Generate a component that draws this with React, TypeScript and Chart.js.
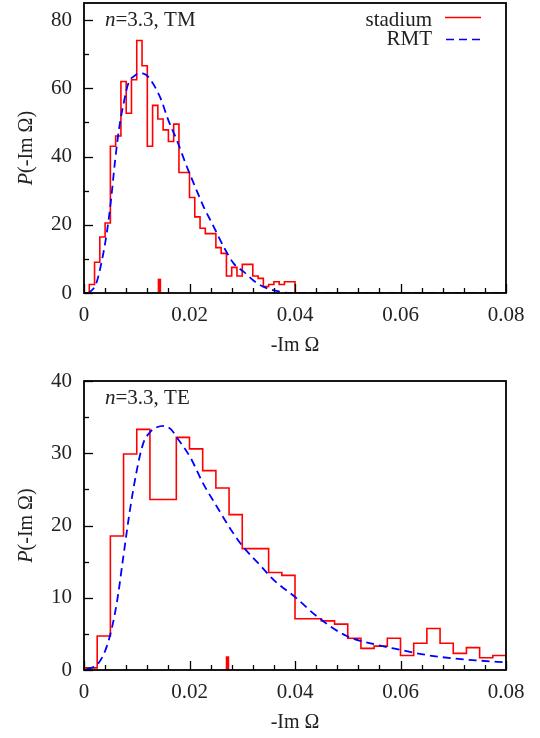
import React, { useEffect, useRef } from 'react';
import { Chart, registerables } from 'chart.js';

Chart.register(...registerables);

// ---------- data ----------
const xTicks = [0, 0.02, 0.04, 0.06, 0.08];
const xTickLabels = ['0', '0.02', '0.04', '0.06', '0.08'];
const tmYTicks = [0, 20, 40, 60, 80];
const teYTicks = [0, 10, 20, 30, 40];

// TM histogram: bins of width 0.001 starting at 0
const tmBinWidth = 0.001;
const tmCounts = [
  0, 2.5, 9, 16.4, 20.5, 43, 46, 62, 52.7, 62.5,
  74, 66.6, 43, 55, 51, 47.8, 44.4, 49.5, 35.3, 35.3,
  28, 22.3, 19, 17.4, 17.4, 13.3, 11.6, 5, 7.5, 5,
  8.4, 8.4, 5, 4.3, 1.9, 2.5, 3.3, 2.5, 3.3, 3.3,
];
const tmRmtX = [
  0.0008, 0.0015, 0.0023, 0.0034, 0.0043, 0.0051, 0.0059, 0.0067, 0.0075, 0.0084,
  0.0097, 0.0106, 0.0113, 0.0121, 0.0144, 0.016, 0.0176, 0.0195, 0.0211, 0.0227,
  0.0246, 0.0265, 0.0284, 0.0303, 0.0325, 0.0345, 0.0365, 0.039, 0.08,
];
const tmRmtY = [
  0, 0.8, 2.7, 9.6, 17.4, 27, 38.9, 48.7, 55.5, 61.4,
  63.8, 64.4, 64.3, 63.5, 57.5, 50.6, 44.8, 37, 31, 25.2,
  19.4, 13.5, 8.6, 6.2, 3.2, 1.5, 0.6, 0, 0,
];
const tmMarkerX = 0.0143;
const tmMarkerH = 4.2;

// TE histogram: bins of width 0.0025 starting at 0
const teBinWidth = 0.0025;
const teCounts = [
  0.3, 4.7, 18.55, 29.9, 33.3, 23.6, 23.6, 32.2, 30.6, 27.6,
  25.2, 21.5, 16.8, 16.8, 13.5, 13.1, 7.1, 7.1, 6.8, 6.35,
  4.4, 3.0, 3.3, 4.4, 2.0, 3.7, 5.75, 3.7, 2.3, 3.1,
  1.7, 2.0,
];
const teRmtX = [
  0.0005, 0.0027, 0.0046, 0.0062, 0.00745, 0.0087, 0.01, 0.0112, 0.0125, 0.0138,
  0.0152, 0.0165, 0.0176, 0.0201, 0.0226, 0.0252, 0.0277, 0.03, 0.0334, 0.0359,
  0.04, 0.0447, 0.0498, 0.0548, 0.0599, 0.065, 0.07, 0.075, 0.08,
];
const teRmtY = [
  0.1, 0.9, 3.9, 9.2, 15.65, 22.1, 27.6, 31.3, 32.9, 33.6,
  33.8, 33.3, 32.2, 29.5, 25.8, 22.6, 19.6, 17.2, 14.5, 12.5,
  10.1, 7.1, 4.7, 3.6, 2.8, 2.07, 1.6, 1.3, 1.06,
];
const teMarkerX = 0.0272;
const teMarkerH = 1.9;

const legendLabels = ['stadium', 'RMT'];
const xMax = 0.08;

// ---------- helpers ----------
const FONT = '"Liberation Serif", "DejaVu Serif", serif';
const TEXT = '#222';

function histPoints(counts: number[], bw: number) {
  const pts: { x: number; y: number }[] = [];
  counts.forEach((c, i) => {
    pts.push({ x: i * bw, y: c });
    pts.push({ x: (i + 1) * bw, y: c });
  });
  const end = counts.length * bw;
  if (end < xMax - 1e-9) {
    pts.push({ x: end, y: 0 });
    pts.push({ x: xMax, y: 0 });
  }
  return pts;
}

type PanelCfg = {
  counts: number[];
  bw: number;
  rmtX: number[];
  rmtY: number[];
  markerX: number;
  markerH: number;
  yMax: number;
  yTicks: number[];
  yMinor: number;
  tag: string;
  legend: boolean;
  padTop: number;
  xAxisH: number;
};

const panels: PanelCfg[] = [
  {
    counts: tmCounts, bw: tmBinWidth, rmtX: tmRmtX, rmtY: tmRmtY,
    markerX: tmMarkerX, markerH: tmMarkerH, yMax: 85, yTicks: tmYTicks, yMinor: 10,
    tag: 'TM', legend: true, padTop: 3, xAxisH: 76,
  },
  {
    counts: teCounts, bw: teBinWidth, rmtX: teRmtX, rmtY: teRmtY,
    markerX: teMarkerX, markerH: teMarkerH, yMax: 40, yTicks: teYTicks, yMinor: 5,
    tag: 'TE', legend: false, padTop: 12, xAxisH: 68,
  },
];

function makeDecor(cfg: PanelCfg) {
  return {
    id: 'decor' + cfg.tag,
    afterDraw(chart: any) {
      const ctx = chart.ctx as CanvasRenderingContext2D;
      const a = chart.chartArea;
      const xs = chart.scales.x;
      const ys = chart.scales.y;
      ctx.save();
      ctx.strokeStyle = '#000';
      ctx.lineWidth = 1.3;
      // x ticks (inward)
      for (let i = 0; i <= 20; i++) {
        const v = i * 0.004;
        const px = Math.round(xs.getPixelForValue(v)) + 0.5;
        const len = i % 5 === 0 ? 9 : 5;
        ctx.beginPath();
        ctx.moveTo(px, a.bottom);
        ctx.lineTo(px, a.bottom - len);
        ctx.stroke();
      }
      // y ticks (inward)
      const nMinor = Math.round(cfg.yMax / cfg.yMinor);
      for (let i = 0; i <= nMinor; i++) {
        const v = i * cfg.yMinor;
        if (v > cfg.yMax) break;
        const py = Math.round(ys.getPixelForValue(v)) + 0.5;
        const len = i % 2 === 0 ? 9 : 5;
        ctx.beginPath();
        ctx.moveTo(a.left, py);
        ctx.lineTo(a.left + len, py);
        ctx.stroke();
      }
      // frame
      ctx.lineWidth = 1.8;
      ctx.strokeRect(a.left, a.top, a.right - a.left, a.bottom - a.top);

      ctx.fillStyle = TEXT;
      ctx.textBaseline = 'alphabetic';
      // x title
      ctx.font = `20px ${FONT}`;
      ctx.textAlign = 'center';
      ctx.fillText('-Im Ω', (a.left + a.right) / 2, a.bottom + 58);

      // y title rotated: P(-Im Ω)
      const cy = (a.top + a.bottom) / 2;
      ctx.save();
      ctx.translate(32, cy);
      ctx.rotate(-Math.PI / 2);
      ctx.textAlign = 'left';
      ctx.font = `italic 20px ${FONT}`;
      const wP = ctx.measureText('P').width;
      ctx.font = `20px ${FONT}`;
      const rest = '(-Im Ω)';
      const wR = ctx.measureText(rest).width;
      const start = -(wP + wR) / 2;
      ctx.font = `italic 20px ${FONT}`;
      ctx.fillText('P', start, 0);
      ctx.font = `20px ${FONT}`;
      ctx.fillText(rest, start + wP, 0);
      ctx.restore();

      // panel tag: n=3.3, TM
      ctx.textAlign = 'left';
      ctx.font = `italic 21px ${FONT}`;
      const tx = a.left + 21;
      const ty = a.top + 23;
      ctx.fillText('n', tx, ty);
      const wn = ctx.measureText('n').width;
      ctx.font = `21px ${FONT}`;
      ctx.fillText('=3.3, ' + cfg.tag, tx + wn, ty);

      // legend
      if (cfg.legend) {
        ctx.font = `21px ${FONT}`;
        ctx.textAlign = 'right';
        ctx.fillText(legendLabels[0], 432, a.top + 23);
        ctx.fillText(legendLabels[1], 432, a.top + 42);
        ctx.lineWidth = 1.6;
        ctx.strokeStyle = '#ff0000';
        ctx.beginPath();
        ctx.moveTo(445, a.top + 14.5);
        ctx.lineTo(481, a.top + 14.5);
        ctx.stroke();
        ctx.strokeStyle = '#0000ff';
        ctx.setLineDash([8, 5]);
        ctx.beginPath();
        ctx.moveTo(446, a.top + 36.5);
        ctx.lineTo(481, a.top + 36.5);
        ctx.stroke();
        ctx.setLineDash([]);
      }
      ctx.restore();
    },
  };
}

function Panel({ cfg }: { cfg: PanelCfg }) {
  const ref = useRef<HTMLCanvasElement | null>(null);
  useEffect(() => {
    if (!ref.current) return;
    const chart = new Chart(ref.current, {
      type: 'line',
      data: {
        datasets: [
          {
            label: 'marker',
            data: [
              { x: cfg.markerX, y: 0 },
              { x: cfg.markerX, y: cfg.markerH },
            ],
            borderColor: '#ff0000',
            borderWidth: 3.5,
            borderCapStyle: 'butt',
            pointRadius: 0,
            order: 1,
          },
          {
            label: legendLabels[1],
            data: cfg.rmtX.map((x, i) => ({ x, y: cfg.rmtY[i] })),
            borderColor: '#0000ff',
            borderWidth: 1.8,
            borderDash: [8, 5],
            cubicInterpolationMode: 'monotone',
            pointRadius: 0,
            order: 2,
          },
          {
            label: legendLabels[0],
            data: histPoints(cfg.counts, cfg.bw),
            borderColor: '#ff0000',
            borderWidth: 1.6,
            pointRadius: 0,
            tension: 0,
            order: 3,
          },
        ],
      } as any,
      options: {
        animation: false,
        responsive: false,
        devicePixelRatio: 1,
        layout: { padding: { left: 0, right: 34, top: cfg.padTop, bottom: 0 } },
        plugins: { legend: { display: false }, tooltip: { enabled: false } },
        scales: {
          x: {
            type: 'linear',
            min: 0,
            max: xMax,
            grid: { display: false, drawTicks: false },
            border: { display: false },
            afterBuildTicks: (s: any) => {
              s.ticks = xTicks.map((v) => ({ value: v }));
            },
            afterFit: (s: any) => {
              s.height = cfg.xAxisH;
              s.paddingLeft = 0;
              s.paddingRight = 0;
            },
            ticks: {
              padding: 10,
              maxRotation: 0,
              autoSkip: false,
              color: TEXT,
              font: { family: FONT, size: 21 },
              callback: (v: any) => {
                const i = xTicks.findIndex((t) => Math.abs(t - Number(v)) < 1e-9);
                return i >= 0 ? xTickLabels[i] : '';
              },
            },
          },
          y: {
            type: 'linear',
            min: 0,
            max: cfg.yMax,
            grid: { display: false, drawTicks: false },
            border: { display: false },
            afterBuildTicks: (s: any) => {
              s.ticks = cfg.yTicks.map((v) => ({ value: v }));
            },
            afterFit: (s: any) => {
              s.width = 84;
              s.paddingTop = 0;
              s.paddingBottom = 0;
            },
            ticks: {
              padding: 12,
              autoSkip: false,
              color: TEXT,
              font: { family: FONT, size: 21 },
              callback: (v: any) => String(v),
            },
          },
        },
      } as any,
      plugins: [makeDecor(cfg)],
    });
    return () => chart.destroy();
  }, [cfg]);
  return <canvas ref={ref} width={540} height={369} style={{ display: 'block', width: 540, height: 369 }} />;
}

export default function App() {
  return (
    <div style={{ position: 'absolute', left: 0, top: 0, width: 540, height: 738, background: '#fff' }}>
      {panels.map((p) => (
        <Panel key={p.tag} cfg={p} />
      ))}
    </div>
  );
}
